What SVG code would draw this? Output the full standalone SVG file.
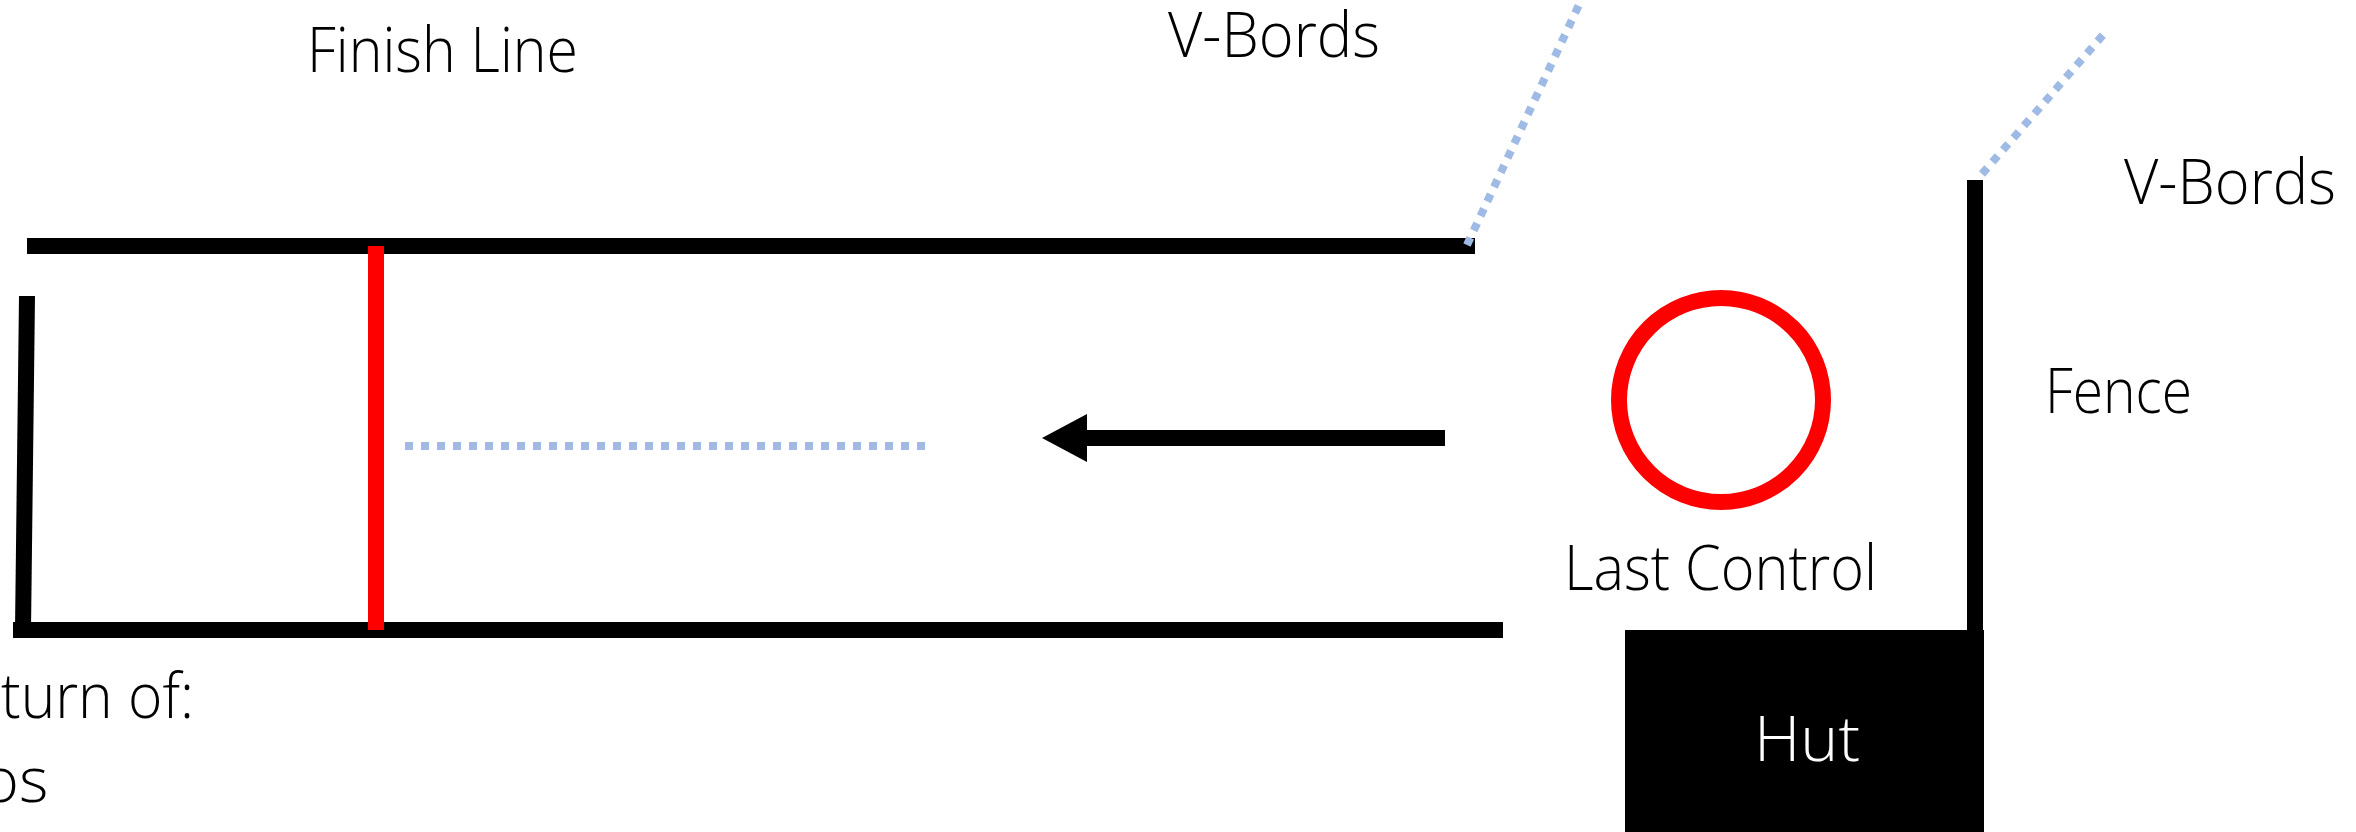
<svg xmlns="http://www.w3.org/2000/svg" width="2356" height="832" viewBox="0 0 2356 832">
  <style>
    .lbl { font-family: "Open Sans", "Noto Sans", "Liberation Sans", sans-serif; font-weight: 300; font-size: 63px; fill: #000; }
    .wall { stroke: #000; stroke-width: 16; fill: none; }
    .dots { stroke: #9FBBE5; stroke-width: 8; stroke-dasharray: 8 8; fill: none; }
  </style>
  <rect x="0" y="0" width="2356" height="832" fill="#fff"/>

  <g id="corridor">
    <line class="wall" x1="27" y1="246" x2="1475" y2="246"/>
    <line class="wall" x1="13" y1="630" x2="1503" y2="630"/>
    <line class="wall" x1="27" y1="296" x2="23" y2="630"/>
  </g>

  <g id="finish-line">
    <line x1="376" y1="246" x2="376" y2="630" stroke="#FF0000" stroke-width="16"/>
    <text class="lbl" x="307" y="72" font-size="66" textLength="271" lengthAdjust="spacingAndGlyphs">Finish Line</text>
  </g>

  <g id="vbords-1">
    <line class="dots" x1="1467" y1="245" x2="1584" y2="-6"/>
    <text class="lbl" x="1168" y="57" textLength="212" lengthAdjust="spacingAndGlyphs">V-Bords</text>
  </g>

  <g id="vbords-2">
    <line class="dots" x1="1982" y1="174" x2="2103" y2="35"/>
    <text class="lbl" x="2124" y="204" textLength="212" lengthAdjust="spacingAndGlyphs">V-Bords</text>
  </g>

  <g id="fence">
    <line class="wall" x1="1975" y1="180" x2="1975" y2="630"/>
    <text class="lbl" x="2045" y="413" textLength="147" lengthAdjust="spacingAndGlyphs">Fence</text>
  </g>

  <g id="last-control">
    <circle cx="1721" cy="400" r="102" fill="none" stroke="#FF0000" stroke-width="16"/>
    <text class="lbl" x="1564" y="590" textLength="313" lengthAdjust="spacingAndGlyphs">Last Control</text>
  </g>

  <g id="hut">
    <rect x="1625" y="630" width="359" height="202" fill="#000"/>
    <text class="lbl" x="1754" y="761" font-size="76" textLength="106" lengthAdjust="spacingAndGlyphs" style="fill:#fff">Hut</text>
  </g>

  <g id="return-note">
    <text class="lbl" x="1" y="718" textLength="193" lengthAdjust="spacingAndGlyphs">turn of:</text>
    <text class="lbl" x="-18" y="802">os</text>
  </g>

  <g id="connectors">
    <line class="dots" x1="405" y1="446" x2="926" y2="446"/>
    <rect x="1087" y="430" width="358" height="16" fill="#000"/>
    <polygon points="1042,438 1087,414 1087,462" fill="#000"/>
  </g>
</svg>
